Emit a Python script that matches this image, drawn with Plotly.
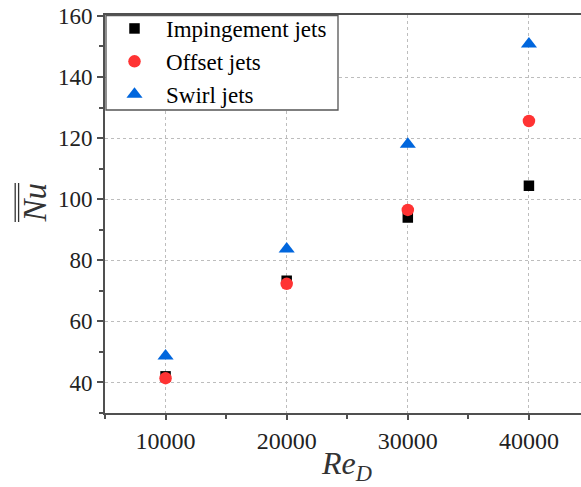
import plotly.graph_objects as go

# Reynolds numbers and averaged Nusselt numbers for each jet configuration
re_d = [10000, 20000, 30000, 40000]
nu_impingement = [42.0, 73.3, 94.0, 104.4]
nu_offset = [41.4, 72.3, 96.5, 125.6]
nu_swirl = [48.7, 83.7, 118.0, 150.8]

y_ticks = [40, 60, 80, 100, 120, 140, 160]
x_ticks = [10000, 20000, 30000, 40000]
x_tick_text = ["10000", "20000", "30000", "40000"]

serif = "Liberation Serif"
axis_col = "#505050"

# plot-area geometry in pixels (used to place the free-standing axis titles)
W, H = 581, 487
L, T, B = 105, 15, 74
pw, ph = W - L, H - T - B


def px_x(x):
    return (x - L) / pw


def px_y(y):
    return (H - B - y) / ph


fig = go.Figure()
fig.add_trace(go.Scatter(x=re_d, y=nu_impingement, mode="markers", name="Impingement jets",
                         marker=dict(symbol="square", size=10.5, color="black")))
fig.add_trace(go.Scatter(x=re_d, y=nu_offset, mode="markers", name="Offset jets",
                         marker=dict(symbol="circle", size=12.5, color="#ff3333")))
fig.add_trace(go.Scatter(x=re_d, y=nu_swirl, mode="markers", name="Swirl jets",
                         marker=dict(symbol="triangle-up", size=14, color="#0066dd")))

# framed white panel behind the legend entries
fig.add_shape(type="rect", xref="paper", yref="paper", layer="above",
              x0=px_x(106), x1=px_x(338), y0=px_y(110), y1=px_y(15.5),
              fillcolor="white", line=dict(color="#555", width=1.3))

fig.update_layout(
    width=W, height=H,
    margin=dict(l=L, r=0, t=T, b=B),
    plot_bgcolor="white", paper_bgcolor="white",
    font=dict(family=serif, size=18, color="#222"),
    showlegend=True,
    legend=dict(x=px_x(103), y=px_y(7), xanchor="left", yanchor="top",
                borderwidth=0, bgcolor="rgba(0,0,0,0)",
                font=dict(family=serif, size=23, color="black"),
                itemwidth=53, tracegroupgap=0),
    xaxis=dict(range=[5000, 44300], tickvals=x_ticks, ticktext=x_tick_text,
               ticks="outside", ticklen=5,
               tickwidth=2, tickcolor=axis_col, showline=True, linewidth=2,
               linecolor=axis_col, mirror=True, showgrid=True, gridcolor="#bdbdbd",
               griddash="dot", gridwidth=1, zeroline=False,
               tickfont=dict(family=serif, size=24, color="#222"),
               minor=dict(dtick=5000, tick0=5000, ticks="outside", ticklen=4,
                          tickcolor=axis_col, tickwidth=2, showgrid=False)),
    yaxis=dict(range=[30, 160.3], tickvals=y_ticks, ticks="outside", ticklen=6,
               tickwidth=2, tickcolor=axis_col, showline=True, linewidth=2,
               linecolor=axis_col, showgrid=True, gridcolor="#bdbdbd",
               griddash="dot", gridwidth=1, zeroline=False,
               tickfont=dict(family=serif, size=23, color="#222"),
               minor=dict(dtick=10, tick0=30, ticks="outside", ticklen=4,
                          tickcolor=axis_col, tickwidth=2, showgrid=False)),
)

# axis titles
fig.add_annotation(text="<i>Re</i><sub><i>D</i></sub>", xref="paper", yref="paper",
                   x=px_x(346), y=px_y(443), xanchor="center", yanchor="top",
                   showarrow=False, font=dict(family=serif, size=32, color="#333"))
fig.add_annotation(text="<i>Nu</i>", xref="paper", yref="paper",
                   x=px_x(34.5), y=px_y(203), xanchor="center", yanchor="middle",
                   textangle=-90, showarrow=False,
                   font=dict(family=serif, size=33, color="#333"))

# double overline above the rotated Nu symbol
for px in (15.2, 18.6):
    fig.add_shape(type="line", xref="paper", yref="paper",
                  x0=px_x(px), x1=px_x(px), y0=px_y(222), y1=px_y(183),
                  line=dict(color="#333", width=1.3))

fig.write_html("out.html")
